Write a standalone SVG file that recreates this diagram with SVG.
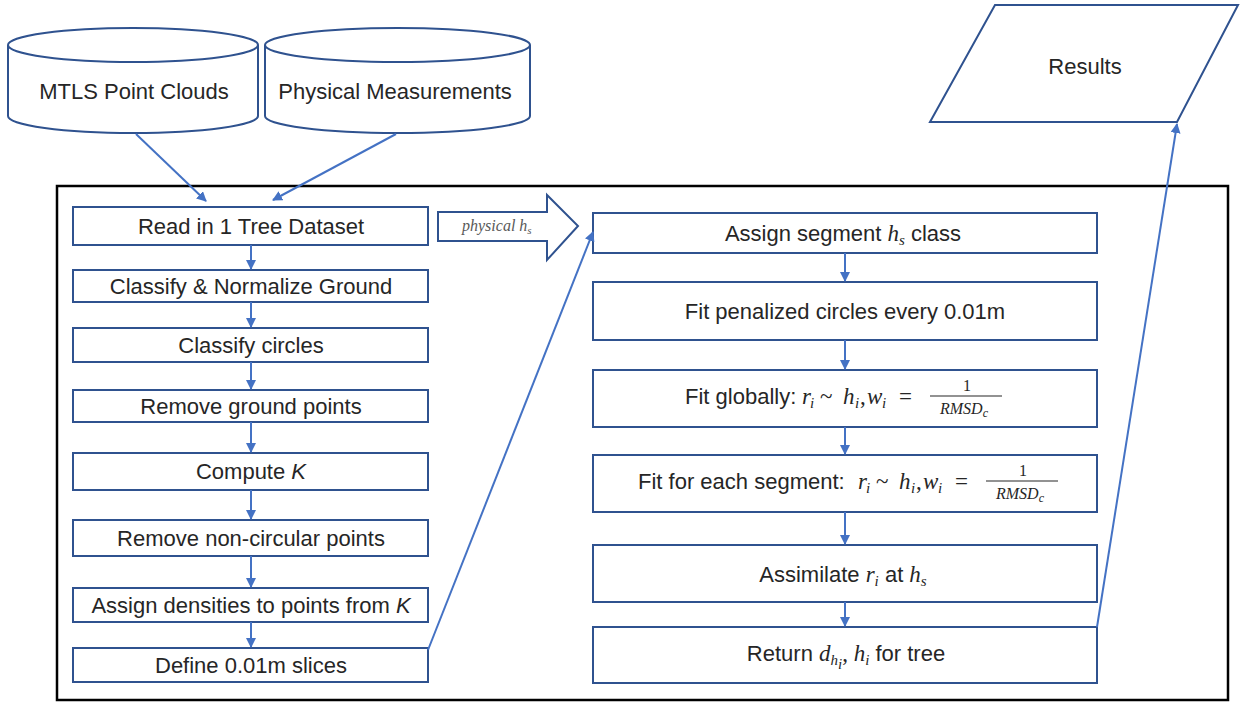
<svg xmlns="http://www.w3.org/2000/svg" width="1243" height="705" viewBox="0 0 1243 705">
<defs>
<marker id="ah" viewBox="0 0 10 10" refX="9" refY="5" markerWidth="5" markerHeight="5" orient="auto" markerUnits="strokeWidth">
<path d="M0,0 L10,5 L0,10 Z" fill="#4472C4"/>
</marker>
<style>
.box{fill:#fff;stroke:#2F528F;stroke-width:2}
.t{font-family:"Liberation Sans",Arial,sans-serif;font-size:22px;fill:#262626;text-anchor:middle}
.s{text-anchor:start}
.m{font-family:"Liberation Serif","DejaVu Serif",serif;font-style:italic;font-size:23px}
.sub{font-family:"Liberation Serif","DejaVu Serif",serif;font-style:italic;font-size:15px}
.eq{font-family:"Liberation Serif","DejaVu Serif",serif;font-size:23px}
.fr{font-family:"Liberation Serif","DejaVu Serif",serif;font-size:16px;fill:#262626}
.c{fill:none;stroke:#4472C4;stroke-width:2;marker-end:url(#ah)}
</style>
</defs>
<rect width="1243" height="705" fill="#fff"/>
<rect id="frame" x="57" y="186" width="1171" height="514" fill="none" stroke="#000" stroke-width="2.5"/>

<g id="mtls">
<path class="box" d="M8,45 A125,17 0 0 1 258,45 L258,116 A125,17 0 0 1 8,116 Z"/>
<path d="M8,45 A125,17 0 0 0 258,45" fill="none" stroke="#2F528F" stroke-width="2"/>
<text class="t" x="134" y="99">MTLS Point Clouds</text>
</g>
<g id="physical">
<path class="box" d="M265,45 A132.5,17 0 0 1 530,45 L530,116 A132.5,17 0 0 1 265,116 Z"/>
<path d="M265,45 A132.5,17 0 0 0 530,45" fill="none" stroke="#2F528F" stroke-width="2"/>
<text class="t" x="395" y="99">Physical Measurements</text>
</g>
<g id="results">
<polygon class="box" points="995,5 1238,5 1177,122 930,122"/>
<text class="t" x="1085" y="74">Results</text>
</g>

<g id="n1"><rect class="box" x="73" y="207" width="355" height="38"/><text class="t" x="251" y="234">Read in 1 Tree Dataset</text></g>
<g id="n2"><rect class="box" x="73" y="270" width="355" height="32"/><text class="t" x="251" y="294">Classify &amp; Normalize Ground</text></g>
<g id="n3"><rect class="box" x="73" y="328" width="355" height="34"/><text class="t" x="251" y="353">Classify circles</text></g>
<g id="n4"><rect class="box" x="73" y="390" width="355" height="32"/><text class="t" x="251" y="414">Remove ground points</text></g>
<g id="n5"><rect class="box" x="73" y="453" width="355" height="37"/><text class="t" x="251" y="479">Compute <tspan font-style="italic">K</tspan></text></g>
<g id="n6"><rect class="box" x="73" y="520" width="355" height="36"/><text class="t" x="251" y="546">Remove non-circular points</text></g>
<g id="n7"><rect class="box" x="73" y="588" width="355" height="34"/><text class="t" x="251" y="613">Assign densities to points from <tspan font-style="italic">K</tspan></text></g>
<g id="n8"><rect class="box" x="73" y="648" width="355" height="34"/><text class="t" x="251" y="673">Define 0.01m slices</text></g>

<g id="hs-arrow">
<path d="M438,212 L547,212 L547,195 L578,226 L547,260 L547,241 L438,241 Z" fill="#fff" stroke="#2F528F" stroke-width="2"/>
<text x="462" y="231" font-family="Liberation Serif,serif" font-style="italic" font-size="16" fill="#595959">physical h<tspan font-size="11" dy="3">s</tspan></text>
</g>

<g id="r1"><rect class="box" x="593" y="213" width="504" height="40"/>
<text class="t" x="843" y="241">Assign segment <tspan class="m">h</tspan><tspan class="sub" dy="4">s</tspan><tspan dy="-4"> class</tspan></text></g>
<g id="r2"><rect class="box" x="593" y="282" width="504" height="58"/><text class="t" x="845" y="319">Fit penalized circles every 0.01m</text></g>
<g id="r3"><rect class="box" x="593" y="370" width="504" height="57"/>
<text class="t s" x="685" y="404">Fit globally:</text>
<g fill="#262626">
<text class="m" x="802" y="404">r</text><text class="sub" x="810" y="408">i</text>
<text class="eq" x="820" y="404">~</text>
<text class="m" x="843" y="404">h</text><text class="sub" x="855" y="408">i</text><text class="eq" x="860" y="404">,</text>
<text class="m" x="867" y="404">w</text><text class="sub" x="882" y="408">i</text>
<text class="eq" x="899" y="404">=</text>
<text class="fr" x="967" y="391" text-anchor="middle">1</text>
<line x1="930" y1="396" x2="1002" y2="396" stroke="#262626" stroke-width="1.2"/>
<text class="fr" x="940" y="414" font-style="italic">RMSD<tspan font-size="12" dy="3">c</tspan></text>
</g>
</g>
<g id="r4"><rect class="box" x="593" y="455" width="504" height="57"/>
<text class="t s" x="638" y="489">Fit for each segment:</text>
<g fill="#262626">
<text class="m" x="858" y="489">r</text><text class="sub" x="866" y="493">i</text>
<text class="eq" x="876" y="489">~</text>
<text class="m" x="899" y="489">h</text><text class="sub" x="911" y="493">i</text><text class="eq" x="916" y="489">,</text>
<text class="m" x="923" y="489">w</text><text class="sub" x="938" y="493">i</text>
<text class="eq" x="955" y="489">=</text>
<text class="fr" x="1023" y="476" text-anchor="middle">1</text>
<line x1="986" y1="481" x2="1058" y2="481" stroke="#262626" stroke-width="1.2"/>
<text class="fr" x="996" y="499" font-style="italic">RMSD<tspan font-size="12" dy="3">c</tspan></text>
</g>
</g>
<g id="r5"><rect class="box" x="593" y="545" width="504" height="57"/>
<text class="t" x="843" y="582">Assimilate <tspan class="m">r</tspan><tspan class="sub" dy="4">i</tspan><tspan dy="-4"> at </tspan><tspan class="m">h</tspan><tspan class="sub" dy="4">s</tspan></text>
</g>
<g id="r6"><rect class="box" x="593" y="627" width="504" height="56"/>
<text class="t" x="846" y="661">Return <tspan class="m">d</tspan><tspan class="sub" font-size="13" dy="4">h</tspan><tspan class="sub" font-size="10" dy="4">i</tspan><tspan class="eq" dy="-8">, </tspan><tspan class="m">h</tspan><tspan class="sub" dy="4">i</tspan><tspan dy="-4"> for tree</tspan></text>
</g>

<g id="connectors">
<line class="c" x1="136" y1="134" x2="206" y2="201"/>
<line class="c" x1="396" y1="134" x2="273" y2="200"/>
<line class="c" x1="251" y1="245" x2="251" y2="269"/>
<line class="c" x1="251" y1="302" x2="251" y2="327"/>
<line class="c" x1="251" y1="362" x2="251" y2="389"/>
<line class="c" x1="251" y1="422" x2="251" y2="452"/>
<line class="c" x1="251" y1="490" x2="251" y2="519"/>
<line class="c" x1="251" y1="556" x2="251" y2="587"/>
<line class="c" x1="251" y1="622" x2="251" y2="647"/>
<line class="c" x1="428" y1="650" x2="593" y2="232"/>
<line class="c" x1="845" y1="253" x2="845" y2="281"/>
<line class="c" x1="845" y1="340" x2="845" y2="369"/>
<line class="c" x1="845" y1="427" x2="845" y2="454"/>
<line class="c" x1="845" y1="512" x2="845" y2="544"/>
<line class="c" x1="845" y1="602" x2="845" y2="626"/>
<line class="c" x1="1097" y1="627" x2="1177" y2="124"/>
</g>
</svg>
